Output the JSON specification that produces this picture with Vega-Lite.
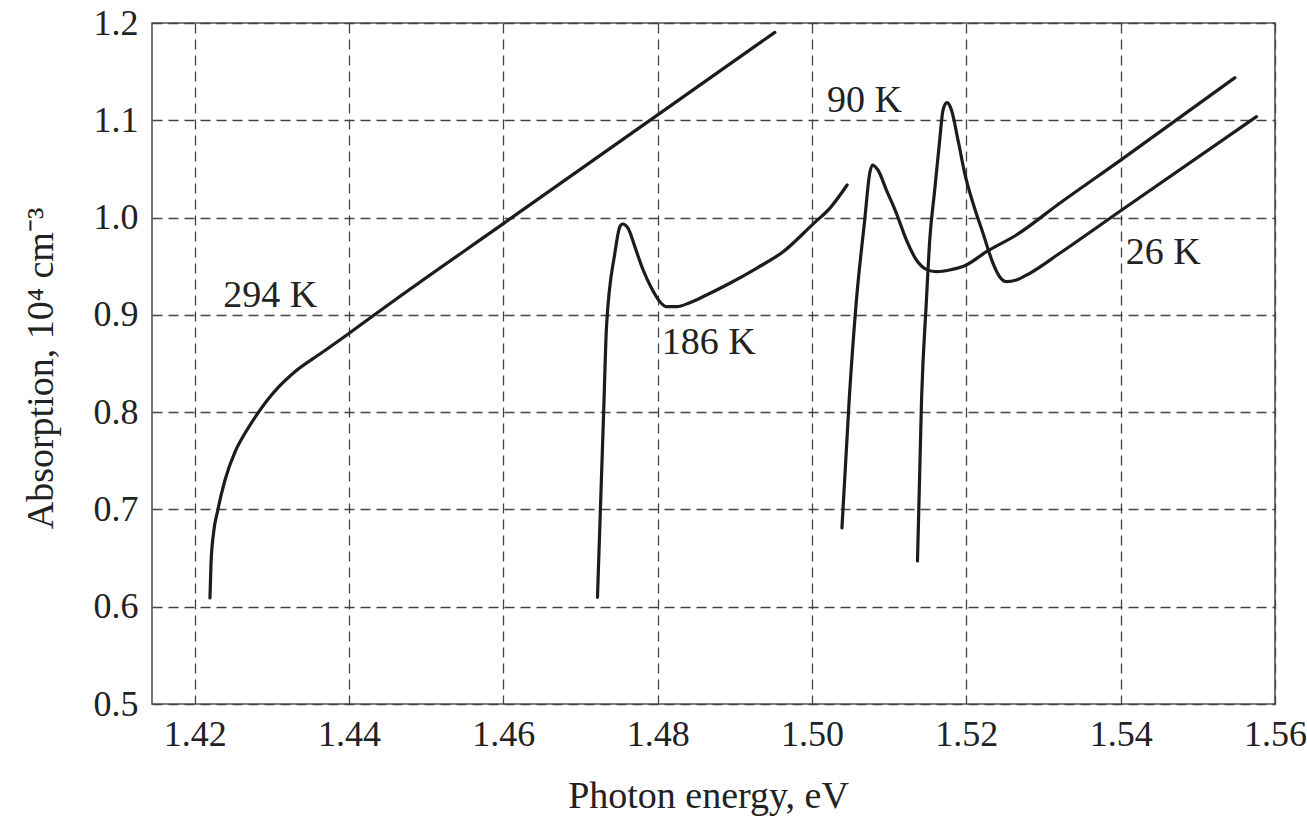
{
  "$schema": "https://vega.github.io/schema/vega-lite/v6.json",
  "width": 1123,
  "height": 681,
  "autosize": "none",
  "padding": {"left": 152, "top": 23, "right": 32, "bottom": 114},
  "background": "white",
  "config": {
    "view": {"stroke": "#555555", "strokeWidth": 1.6},
    "font": "Liberation Serif"
  },
  "datasets": {
    "curves": [
      {"series": "294 K", "x": 1.42198, "y": 0.609},
      {"series": "294 K", "x": 1.42212, "y": 0.645},
      {"series": "294 K", "x": 1.42245, "y": 0.6760},
      {"series": "294 K", "x": 1.42298, "y": 0.6987},
      {"series": "294 K", "x": 1.42393, "y": 0.7303},
      {"series": "294 K", "x": 1.42522, "y": 0.7590},
      {"series": "294 K", "x": 1.42652, "y": 0.7783},
      {"series": "294 K", "x": 1.42782, "y": 0.7947},
      {"series": "294 K", "x": 1.42933, "y": 0.8115},
      {"series": "294 K", "x": 1.43083, "y": 0.8255},
      {"series": "294 K", "x": 1.43299, "y": 0.8416},
      {"series": "294 K", "x": 1.43645, "y": 0.8610},
      {"series": "294 K", "x": 1.44003, "y": 0.8811},
      {"series": "294 K", "x": 1.44206, "y": 0.8930},
      {"series": "294 K", "x": 1.44595, "y": 0.9153},
      {"series": "294 K", "x": 1.46000, "y": 0.9938},
      {"series": "294 K", "x": 1.48000, "y": 1.1056},
      {"series": "294 K", "x": 1.49518, "y": 1.1904},

      {"series": "186 K", "x": 1.47220, "y": 0.6097},
      {"series": "186 K", "x": 1.47260, "y": 0.7050},
      {"series": "186 K", "x": 1.47300, "y": 0.8000},
      {"series": "186 K", "x": 1.47337, "y": 0.8878},
      {"series": "186 K", "x": 1.47445, "y": 0.9633},
      {"series": "186 K", "x": 1.47510, "y": 0.9906},
      {"series": "186 K", "x": 1.47545, "y": 0.9934},
      {"series": "186 K", "x": 1.47617, "y": 0.9890},
      {"series": "186 K", "x": 1.47704, "y": 0.9701},
      {"series": "186 K", "x": 1.47812, "y": 0.9461},
      {"series": "186 K", "x": 1.47921, "y": 0.9273},
      {"series": "186 K", "x": 1.48029, "y": 0.9135},
      {"series": "186 K", "x": 1.48115, "y": 0.9084},
      {"series": "186 K", "x": 1.48244, "y": 0.9084},
      {"series": "186 K", "x": 1.48417, "y": 0.9125},
      {"series": "186 K", "x": 1.48633, "y": 0.9204},
      {"series": "186 K", "x": 1.48935, "y": 0.9325},
      {"series": "186 K", "x": 1.49281, "y": 0.9479},
      {"series": "186 K", "x": 1.49626, "y": 0.9649},
      {"series": "186 K", "x": 1.50023, "y": 0.9941},
      {"series": "186 K", "x": 1.50230, "y": 1.0095},
      {"series": "186 K", "x": 1.50455, "y": 1.0335},

      {"series": "90 K", "x": 1.50388, "y": 0.681},
      {"series": "90 K", "x": 1.50483, "y": 0.8142},
      {"series": "90 K", "x": 1.50576, "y": 0.9153},
      {"series": "90 K", "x": 1.50683, "y": 0.9975},
      {"series": "90 K", "x": 1.50748, "y": 1.0455},
      {"series": "90 K", "x": 1.50783, "y": 1.0540},
      {"series": "90 K", "x": 1.50855, "y": 1.0489},
      {"series": "90 K", "x": 1.50964, "y": 1.0283},
      {"series": "90 K", "x": 1.51094, "y": 1.0044},
      {"series": "90 K", "x": 1.51223, "y": 0.9770},
      {"series": "90 K", "x": 1.51353, "y": 0.9564},
      {"series": "90 K", "x": 1.51482, "y": 0.9468},
      {"series": "90 K", "x": 1.51612, "y": 0.9444},
      {"series": "90 K", "x": 1.51784, "y": 0.9461},
      {"series": "90 K", "x": 1.52000, "y": 0.9513},
      {"series": "90 K", "x": 1.52260, "y": 0.9649},
      {"series": "90 K", "x": 1.52649, "y": 0.9821},
      {"series": "90 K", "x": 1.53210, "y": 1.0147},
      {"series": "90 K", "x": 1.54000, "y": 1.0590},
      {"series": "90 K", "x": 1.55480, "y": 1.1438},

      {"series": "26 K", "x": 1.51367, "y": 0.647},
      {"series": "26 K", "x": 1.51420, "y": 0.8142},
      {"series": "26 K", "x": 1.51483, "y": 0.9153},
      {"series": "26 K", "x": 1.51526, "y": 0.9770},
      {"series": "26 K", "x": 1.51590, "y": 1.0283},
      {"series": "26 K", "x": 1.51655, "y": 1.0797},
      {"series": "26 K", "x": 1.51698, "y": 1.1106},
      {"series": "26 K", "x": 1.51750, "y": 1.1181},
      {"series": "26 K", "x": 1.51807, "y": 1.1106},
      {"series": "26 K", "x": 1.51892, "y": 1.0797},
      {"series": "26 K", "x": 1.51979, "y": 1.0455},
      {"series": "26 K", "x": 1.52087, "y": 1.0147},
      {"series": "26 K", "x": 1.52216, "y": 0.9838},
      {"series": "26 K", "x": 1.52346, "y": 0.9530},
      {"series": "26 K", "x": 1.52432, "y": 0.9392},
      {"series": "26 K", "x": 1.52519, "y": 0.9341},
      {"series": "26 K", "x": 1.52649, "y": 0.9358},
      {"series": "26 K", "x": 1.52821, "y": 0.9427},
      {"series": "26 K", "x": 1.53210, "y": 0.9633},
      {"series": "26 K", "x": 1.54000, "y": 1.0070},
      {"series": "26 K", "x": 1.55760, "y": 1.1037}
    ],
    "labels": [
      {"label": "294 K", "x": 1.4298, "y": 0.908},
      {"label": "186 K", "x": 1.4866, "y": 0.860},
      {"label": "90 K", "x": 1.5068, "y": 1.1085},
      {"label": "26 K", "x": 1.5455, "y": 0.9523}
    ]
  },
  "layer": [
    {
      "data": {"name": "curves"},
      "mark": {"type": "line", "interpolate": "monotone", "color": "#1c1c1c", "strokeWidth": 3.2, "strokeCap": "round", "strokeJoin": "round"},
      "encoding": {
        "x": {
          "field": "x", "type": "quantitative",
          "scale": {"domain": [1.41447, 1.56], "nice": false, "zero": false},
          "axis": {
            "title": "Photon energy, eV",
            "values": [1.42, 1.44, 1.46, 1.48, 1.50, 1.52, 1.54, 1.56],
            "format": ".2f",
            "domain": false, "ticks": false,
            "grid": true, "gridDash": [10, 6], "gridColor": "#444444", "gridWidth": 1.3,
            "labelFont": "Liberation Serif", "labelFontSize": 36, "labelColor": "#222222",
            "labelPadding": 13, "labelFlush": false,
            "titleFont": "Liberation Serif", "titleFontSize": 38, "titleFontWeight": "normal", "titleColor": "#222222",
            "titleBaseline": "alphabetic", "titleY": 103, "titleX": 556
          }
        },
        "y": {
          "field": "y", "type": "quantitative",
          "scale": {"domain": [0.5, 1.2], "nice": false, "zero": false},
          "axis": {
            "title": "Absorption, 10⁴ cm⁻³",
            "values": [0.5, 0.6, 0.7, 0.8, 0.9, 1.0, 1.1, 1.2],
            "format": ".1f",
            "domain": false, "ticks": false,
            "grid": true, "gridDash": [10, 6], "gridColor": "#444444", "gridWidth": 1.3,
            "labelFont": "Liberation Serif", "labelFontSize": 36, "labelColor": "#222222",
            "labelPadding": 14, "labelFlush": false,
            "titleFont": "Liberation Serif", "titleFontSize": 38, "titleFontWeight": "normal", "titleColor": "#222222",
            "titleBaseline": "alphabetic", "titleX": -100, "titleY": 345
          }
        },
        "detail": {"field": "series", "type": "nominal"}
      }
    },
    {
      "data": {"name": "labels"},
      "mark": {"type": "text", "font": "Liberation Serif", "fontSize": 38, "color": "#222222", "align": "center", "baseline": "alphabetic"},
      "encoding": {
        "x": {"field": "x", "type": "quantitative"},
        "y": {"field": "y", "type": "quantitative"},
        "text": {"field": "label", "type": "nominal"}
      }
    }
  ]
}
